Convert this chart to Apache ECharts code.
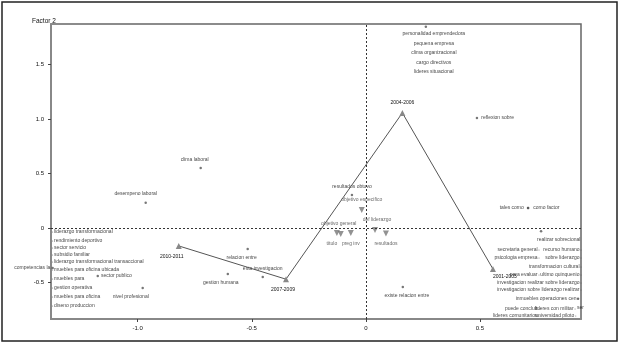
<!DOCTYPE html>
<html>
<head>
<meta charset="utf-8">
<script src="https://cdn.jsdelivr.net/npm/echarts@6/dist/echarts.min.js"></script>
<style>
  html, body { margin: 0; padding: 0; background: #fff; }
  #container { width: 621px; height: 346px; }
</style>
</head>
<body>
<div id="container"></div>
<script>
// periods (joined by the line)
let yearNames = ['2001-2003', '2004-2006', '2007-2009', '2010-2011'];
let yearX = [0.557, 0.16, -0.35, -0.82];
let yearY = [-0.376, 1.055, -0.47, -0.165];

// column points (inverted triangles)
let colNames = ['objetivo especifico', 'objetivo general', 'titulo', 'preg inv', 'def liderazgo', 'resultados'];
let colX = [-0.018, -0.11, -0.127, -0.066, 0.04, 0.088];
let colY = [0.165, -0.055, -0.046, -0.046, -0.02, -0.05];

// single row points
let rowNames = ['reflexion sobre', 'clima laboral', 'desempeno laboral', 'resultados obtuvo', 'tales como', 'como factor',
  'realizar sobrecional', 'existe relacion entre', 'relacion entre', 'esta investigacion', 'gestion humana',
  'nivel profesional', 'sector publico', 'competencias la'];
let rowX = [0.487, -0.724, -0.965, -0.061, 0.711, 0.711, 0.768, 0.162, -0.518, -0.452, -0.605, -0.978, -1.175, -1.373];
let rowY = [1.009, 0.55, 0.23, 0.303, 0.183, 0.183, -0.03, -0.541, -0.193, -0.45, -0.422, -0.55, -0.44, -0.367];

// overlapping points at the top
let topNames = ['personalidad emprendedora', 'pequena empresa', 'clima organizacional', 'cargo directivos', 'lideres situacional'];
let topX = 0.263;
let topY = 1.844;

// stacked labels at the left edge
let leftNames = ['liderazgo transformacional', 'rendimiento deportivo', 'sector servicio', 'subsidio familiar',
  'liderazgo transformacional transaccional', 'muebles para oficina ubicada', 'muebles para', 'gestion operativa',
  'muebles para oficina', 'diseno produccion'];
let leftX = -1.373;
let leftY = [-0.037, -0.119, -0.183, -0.248, -0.312, -0.385, -0.468, -0.55, -0.633, -0.716];

// stacked labels at the right edge
let rightNames = ['secretaria general', 'recurso humano', 'psicologia empresa', 'sobre liderazgo', 'transformacion cultural',
  'para evaluar', 'ultimo quinquenio', 'investigacion realizar sobre liderazgo', 'investigacion sobre liderazgo realizar',
  'inmuebles operaciones cen', 'puede concluir', 'lideres con militar', 'lideres comunitarios', 'universidad piloto'];
let rightX = [0.759, 0.943, 0.759, 0.943, 0.943, 0.759, 0.943, 0.943, 0.943, 0.93, 0.759, 0.917, 0.759, 0.92];
let rightY = [-0.202, -0.202, -0.275, -0.275, -0.358, -0.431, -0.431, -0.505, -0.569, -0.65, -0.743, -0.743, -0.807, -0.807];

let xTicks = [-1.0, -0.5, 0, 0.5];
let yTicks = [-0.5, 0, 0.5, 1.0, 1.5];

let font = '"Liberation Sans", Arial, sans-serif';
let txt = { fontFamily: font, fontSize: 5, color: '#111' };

let yearLabel = {
  '2001-2003': { position: 'bottom', align: 'left', offset: [0, -3] },
  '2004-2006': { position: 'top' },
  '2007-2009': { position: 'bottom', offset: [-3, 0] },
  '2010-2011': { position: 'bottom', offset: [-7, 0] },
};
let colLabel = {
  'objetivo especifico': { position: 'top' },
  'objetivo general': { position: 'top', offset: [-2, 0] },
  'titulo': { position: 'bottom', offset: [-5, 0] },
  'preg inv': { position: 'bottom' },
  'def liderazgo': { position: 'top', offset: [2, 0] },
  'resultados': { position: 'bottom' },
};
let rowLabel = {
  'reflexion sobre': { position: 'right', distance: 3 },
  'clima laboral': { position: 'top', offset: [-6, 0] },
  'desempeno laboral': { position: 'top', offset: [-10, 0] },
  'resultados obtuvo': { position: 'top' },
  'tales como': { position: 'left', distance: 3 },
  'como factor': { position: 'right', distance: 4 },
  'realizar sobrecional': { position: 'bottom', align: 'left', offset: [-4, 0] },
  'existe relacion entre': { position: 'bottom', offset: [4, 0] },
  'relacion entre': { position: 'bottom', offset: [-6, 0] },
  'esta investigacion': { position: 'top' },
  'gestion humana': { position: 'bottom', offset: [-7, 0] },
  'nivel profesional': { position: 'bottom', offset: [-12, 0] },
  'sector publico': { position: 'right', distance: 2 },
  'competencias la': { position: 'left', distance: 1 },
};

function pts(names, xs, ys, labels) {
  return names.map((n, i) => ({
    name: n,
    value: [Array.isArray(xs) ? xs[i] : xs, Array.isArray(ys) ? ys[i] : ys],
    label: labels ? Object.assign({ show: true }, labels[n]) : undefined,
  }));
}

let fmt = (v) => (v === 0 ? '0' : v.toFixed(1));

var myChart = echarts.init(document.getElementById('container'));

let option = {
  animation: false,
  title: {
    text: 'Factor 2',
    left: 27,
    top: 13,
    textStyle: { fontFamily: font, fontSize: 6.5, fontWeight: 'normal', color: '#111' },
  },
  graphic: [
    {
      type: 'rect',
      shape: { x: 2, y: 2, width: 615, height: 339 },
      style: { fill: 'none', stroke: '#222', lineWidth: 1.5 },
    },
  ],
  grid: {
    left: 51,
    right: 40,
    top: 24,
    bottom: 27,
    show: true,
    borderColor: '#666',
    borderWidth: 1.5,
  },
  xAxis: {
    type: 'value',
    min: -1.38,
    max: 0.943,
    splitLine: { show: false },
    axisLine: { onZero: false, lineStyle: { color: '#888', width: 2 } },
    axisTick: { customValues: xTicks, length: 3, lineStyle: { color: '#444' } },
    axisLabel: { customValues: xTicks, formatter: fmt, margin: 6, fontFamily: font, fontSize: 6, color: '#111' },
  },
  yAxis: {
    type: 'value',
    min: -0.835,
    max: 1.87,
    splitLine: { show: false },
    axisLine: { onZero: false, lineStyle: { color: '#888', width: 2 } },
    axisTick: { customValues: yTicks, length: 3, lineStyle: { color: '#444' } },
    axisLabel: { customValues: yTicks, formatter: fmt, margin: 7, fontFamily: font, fontSize: 6, color: '#111' },
  },
  series: [
    {
      name: 'ejes',
      type: 'scatter',
      data: [],
      markLine: {
        silent: true,
        symbol: 'none',
        label: { show: false },
        lineStyle: { color: '#333', type: [2, 2], width: 1 },
        data: [{ xAxis: 0 }, { yAxis: 0 }],
      },
    },
    {
      name: 'periodo',
      type: 'line',
      symbol: 'triangle',
      symbolSize: 6,
      itemStyle: { color: '#888' },
      lineStyle: { color: '#555', width: 1 },
      label: Object.assign({ show: true, formatter: '{b}' }, txt),
      data: pts(yearNames, yearX, yearY, yearLabel),
    },
    {
      name: 'columnas',
      type: 'scatter',
      symbol: 'triangle',
      symbolRotate: 180,
      symbolSize: 6,
      itemStyle: { color: '#777' },
      label: Object.assign({ show: true, formatter: '{b}' }, txt, { color: '#444' }),
      data: pts(colNames, colX, colY, colLabel),
    },
    {
      name: 'filas',
      type: 'scatter',
      symbolSize: 2.5,
      itemStyle: { color: '#555' },
      label: Object.assign({ show: true, formatter: '{b}' }, txt),
      data: pts(rowNames, rowX, rowY, rowLabel),
    },
    {
      name: 'arriba',
      type: 'scatter',
      symbolSize: 2.5,
      itemStyle: { color: '#555' },
      label: Object.assign({
        show: true,
        position: 'bottom',
        distance: 1,
        offset: [8, 0],
        lineHeight: 9.5,
        formatter: () => topNames.join('\n'),
      }, txt),
      data: [[topX, topY]],
    },
    {
      name: 'izquierda',
      type: 'scatter',
      symbolSize: 1,
      itemStyle: { color: '#555' },
      label: Object.assign({ show: true, position: 'right', distance: 1, formatter: '{b}' }, txt),
      data: pts(leftNames, leftX, leftY),
    },
    {
      name: 'derecha',
      type: 'scatter',
      symbolSize: 1,
      itemStyle: { color: '#555' },
      label: Object.assign({ show: true, position: 'left', distance: 1, formatter: '{b}' }, txt),
      data: pts(rightNames, rightX, rightY),
    },
    {
      name: 'extra',
      type: 'scatter',
      symbolSize: 2.5,
      itemStyle: { color: '#555' },
      label: Object.assign({ show: true, position: 'bottom', align: 'left', offset: [-1, 0], formatter: '{b}' }, txt),
      data: pts(['ser'], [0.93], [-0.65]),
    },
  ],
};

myChart.setOption(option);
</script>
</body>
</html>
